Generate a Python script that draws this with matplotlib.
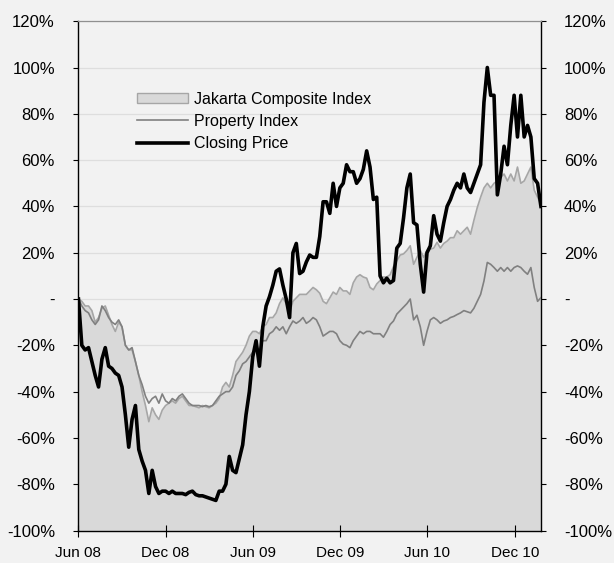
import matplotlib
matplotlib.use("Agg")
import matplotlib.pyplot as plt
import matplotlib.dates as mdates
from matplotlib.patches import Patch
from matplotlib.lines import Line2D
import pandas as pd

plt.rcParams["font.family"] = ["Liberation Sans", "DejaVu Sans"]

# weekly observations, % change since start (Jun 2008)
START = "2008-06-02"

closing_price = [
    0, -20, -22, -21, -27, -33, -38, -26, -21, -29,
    -30, -32, -33, -38, -50, -64, -52, -46, -65, -70,
    -74, -84, -74, -81, -84, -83, -83, -84, -83, -84,
    -84, -84, -84.5, -83.5, -83, -84.5, -85, -85, -85.5, -86,
    -86.5, -87, -83, -83, -80, -68, -74, -75, -69, -63,
    -50, -40, -25, -18, -29, -12, -3, 1, 6, 12,
    13, 6, 0, -8, 20, 24, 11, 12, 16, 19,
    18, 18, 27, 42, 42, 37, 50, 40, 48, 50,
    58, 55, 55, 50, 52, 56, 64, 57, 43, 44,
    10, 7, 9, 7, 8, 22, 24, 35, 48, 54,
    33, 32, 15, 3, 20, 23, 36, 28, 25, 33,
    40, 43, 47, 50, 48, 54, 48, 46, 50, 54,
    58, 85, 100, 88, 88, 45, 54, 66, 58, 75,
    88, 70, 88, 70, 75, 70, 52, 50, 40,
]

jakarta_composite = [
    0, -1, -3, -3, -5, -10, -8, -4, -3, -7,
    -11, -14, -10, -12, -20, -22, -22, -27, -33, -40,
    -46, -53, -47, -50, -52, -48, -46, -45, -44, -45,
    -43, -42, -44, -46, -46, -46.5, -47, -46, -46.5, -47,
    -46, -45, -43, -38, -36, -38, -33, -27, -25, -23,
    -20, -16, -14, -14, -15, -12, -11, -8, -8, -6,
    -2, 0.5, -2, -6, -1, 0.5, 2, 2, 2, 3.5,
    5, 4, 2.5, -1, -2, 0.5, 3, 2, 5, 3.5,
    3.5, 2, 7, 9.5, 10.5, 9.5, 9, 5, 4, 6.5,
    8, 9.5, 9.5, 10.5, 14, 16.5, 19, 19.5, 21, 23,
    15, 18, 21, 18, 21, 21.5, 22, 24.5, 22, 24,
    25, 26.5, 26.5, 29.5, 28, 29.5, 31, 28, 34, 39.5,
    44, 48, 50, 48, 50, 51, 52.5, 54, 51, 54,
    51, 57, 50, 51, 54, 57, 47, 44, 41,
]

property_index = [
    0, -3, -5, -6, -9, -11, -9, -3, -5, -8,
    -10, -11, -9, -12, -20, -22, -21, -27, -33, -37,
    -42, -45, -43, -42, -45, -41, -44, -45, -43, -44,
    -42, -41, -43, -45, -46, -46, -46, -46.5, -46, -46.5,
    -46, -44, -42, -41, -40, -40, -38, -33, -31, -28,
    -27, -25, -23, -21, -22, -18, -18, -15, -14, -12,
    -13.5, -12, -15, -12, -9.5, -10.5, -9.5, -8, -10.5, -9.5,
    -8, -9, -12, -16, -15, -14, -14, -15, -18, -19.5,
    -20, -21, -18, -16, -14, -15, -14, -14, -15, -15,
    -15, -16.5, -14, -11, -9.5, -6.5, -5, -3.5, -2, 0,
    -9, -7, -12, -20, -14, -9, -8, -9, -10.5, -9.5,
    -9, -8, -7.5, -6.7, -6, -5, -5.5, -6, -4, -1,
    2, 7.8, 15.8, 15, 13.6, 12, 13.6, 12, 13.6, 12,
    13.6, 14.3, 13.6, 12, 10.7, 13.6, 5, -1, 0.6,
]

y_ticks = [120, 100, 80, 60, 40, 20, 0, -20, -40, -60, -80, -100]
y_labels = ["120%", "100%", "80%", "60%", "40%", "20%", "-",
            "-20%", "-40%", "-60%", "-80%", "-100%"]

BG = "#f2f2f2"
FILL = "#d9d9d9"
JCI_LINE = "#a6a6a6"
PROP_LINE = "#808080"

dates = pd.date_range(START, periods=len(closing_price), freq="7D")

fig = plt.figure(figsize=(6.14, 5.63), dpi=100, facecolor=BG)
ax = fig.add_axes([0.127, 0.0577, 0.754, 0.9046], facecolor=BG)

for v in y_ticks:
    ax.axhline(v, color="#dedede", lw=0.9, zorder=0)

ax.fill_between(dates, -100, jakarta_composite, color=FILL, lw=0, zorder=1)
ax.plot(dates, jakarta_composite, color=JCI_LINE, lw=1.2, zorder=2)
ax.plot(dates, property_index, color=PROP_LINE, lw=1.2, zorder=3)
ax.plot(dates, closing_price, color="black", lw=2.6, zorder=4)

ax.set_ylim(-100, 120)
ax.set_xlim(pd.Timestamp("2008-06-01"), dates[-1])
ax.set_yticks(y_ticks)
ax.set_yticklabels(y_labels)
ax.tick_params(axis="y", direction="out", length=3.6, labelsize=12, pad=13,
               right=True, labelright=True, color="black")
ax.xaxis.set_major_locator(mdates.MonthLocator(bymonth=[6, 12]))
ax.xaxis.set_major_formatter(mdates.DateFormatter("%b %y"))
ax.tick_params(axis="x", direction="inout", length=8, labelsize=11, pad=7)

for side in ["left", "right", "bottom"]:
    ax.spines[side].set_color("black")
    ax.spines[side].set_linewidth(1.0)
ax.spines["top"].set_color("#909090")
ax.spines["top"].set_linewidth(0.9)

handles = [
    Patch(facecolor=FILL, edgecolor=JCI_LINE, lw=1.0),
    Line2D([], [], color=PROP_LINE, lw=1.2),
    Line2D([], [], color="black", lw=2.6),
]
labels = ["Jakarta Composite Index", "Property Index", "Closing Price"]
ax.legend(handles, labels, loc="upper left", bbox_to_anchor=(0.127, 0.862),
          frameon=False, fontsize=11.5, handlelength=3.2, handleheight=0.55,
          handletextpad=0.4, labelspacing=0.45, borderpad=0, borderaxespad=0)

fig.savefig("out.png", dpi=100, facecolor=BG)
